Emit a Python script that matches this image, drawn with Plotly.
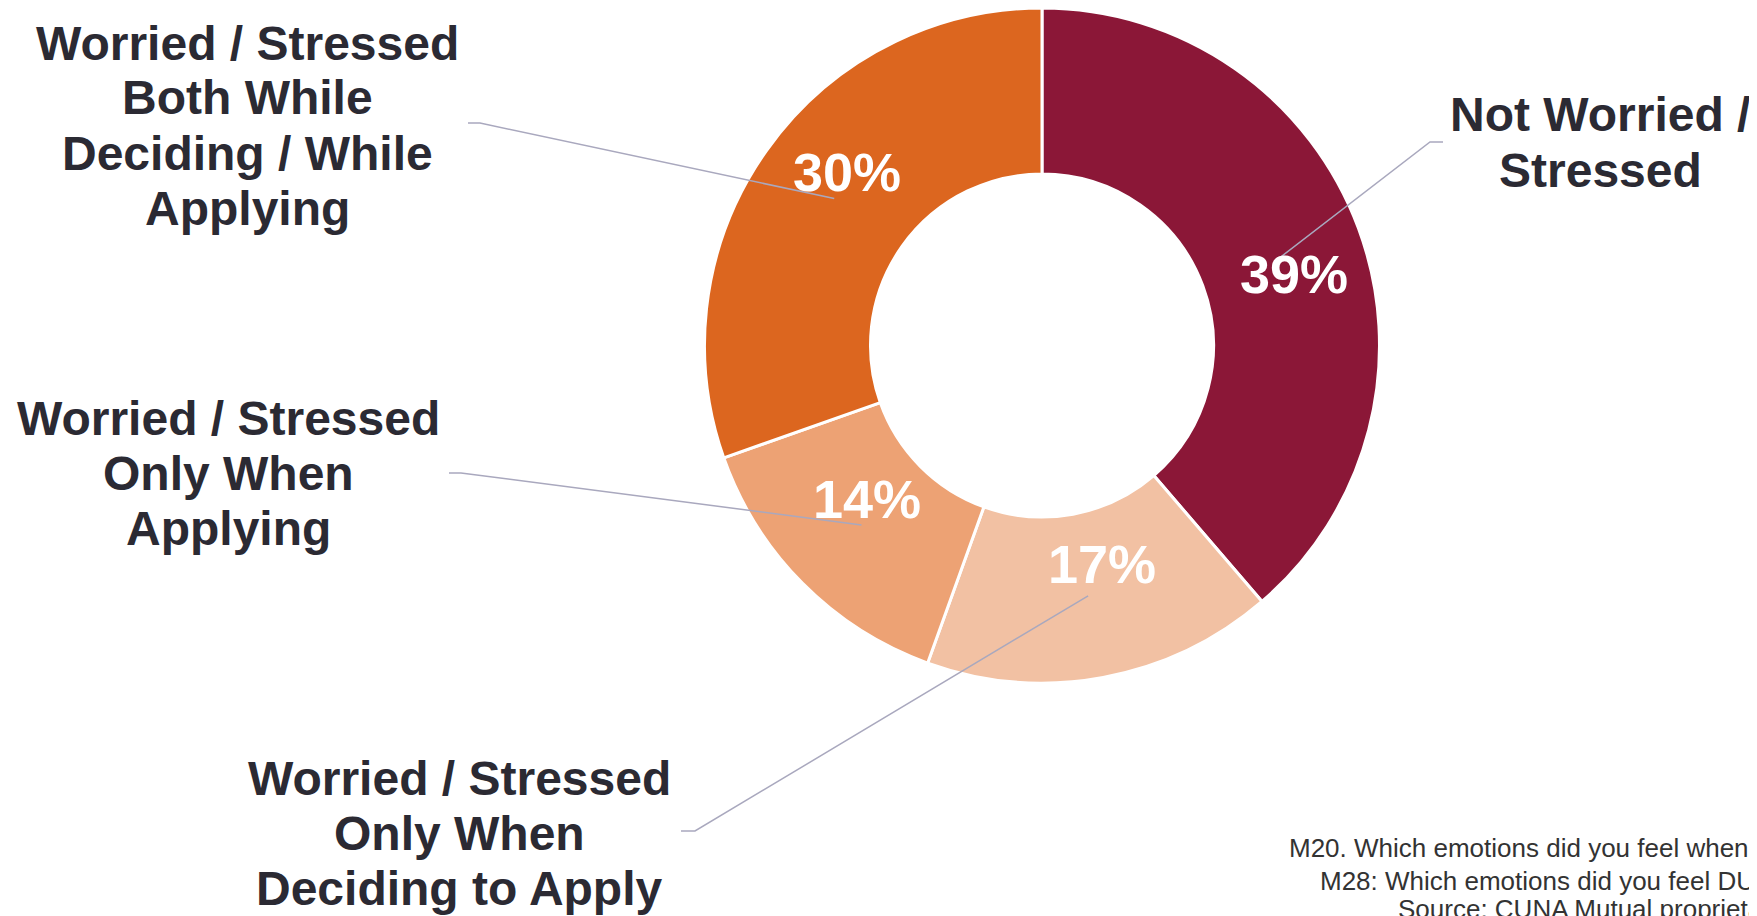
import math
import plotly.graph_objects as go

# ---- data ----
categories = [
    "Not Worried / Stressed",
    "Worried / Stressed Only When Deciding to Apply",
    "Worried / Stressed Only When Applying",
    "Worried / Stressed Both While Deciding / While Applying",
]
values = [38.7, 16.8, 14.1, 30.4]
value_labels = ["39%", "17%", "14%", "30%"]
label_lines = [
    ["Not Worried /", "Stressed"],
    ["Worried / Stressed", "Only When", "Deciding to Apply"],
    ["Worried / Stressed", "Only When", "Applying"],
    ["Worried / Stressed", "Both While", "Deciding / While", "Applying"],
]
colors = ["#8B1737", "#F2C1A3", "#EDA274", "#DC661F"]
footer_lines = [
    "M20. Which emotions did you feel when deciding to apply?",
    "M28: Which emotions did you feel DURING the application?",
    "Source: CUNA Mutual proprietary research",
]

# ---- layout (page pixels) ----
W, H = 1757, 916
OFF = 8  # default browser body margin
CX, CY = 1042, 345.5
TEXT = "#2B2A33"
LEADER = "#A9A8BE"
# label text centre x, first line centre y, leader start, elbow, value label centre
label_layout = [
    dict(x=1600, y=115, lx=1443, ly=142, dx=-13, vx=1294, vy=274),
    dict(x=459, y=778, lx=681, ly=831, dx=14, vx=1102, vy=564),
    dict(x=228, y=418, lx=449, ly=473, dx=12, vx=867, vy=499),
    dict(x=247, y=43, lx=468, ly=123, dx=12, vx=847, vy=172),
]
LINE_STEP = 55
footer_layout = [(1287, 848), (1318, 881), (1396, 909)]
R = CY - OFF
HOLE = 171.5 / R


def px(x):
    return (x - OFF) / W


def py(y):
    return 1 - (y - OFF) / H


fig = go.Figure(go.Pie(
    labels=categories,
    values=values,
    textinfo="none",
    hole=HOLE,
    sort=False,
    direction="clockwise",
    rotation=0,
    marker=dict(colors=colors, line=dict(color="white", width=3)),
    domain=dict(x=[px(CX - R), px(CX + R)], y=[max(0, py(CY + R)), min(1, py(CY - R))]),
    showlegend=False,
    hoverinfo="label+percent",
))

annotations = []
shapes = []
total = sum(values)
cum = 0
r_mid = R * (1 + HOLE) / 2
for v, vl, lines, lay in zip(values, value_labels, label_lines, label_layout):
    mid = (cum + v / 2) / total * 2 * math.pi
    cum += v
    ex = CX + r_mid * math.sin(mid)
    ey = CY - r_mid * math.cos(mid)
    ox, oy = lay["lx"], lay["ly"]
    shapes.append(dict(
        type="path", xref="paper", yref="paper",
        path=f"M {px(ox)},{py(oy)} L {px(ox + lay['dx'])},{py(oy)} L {px(ex)},{py(ey)}",
        line=dict(color=LEADER, width=1.5),
    ))
    for i, t in enumerate(lines):
        annotations.append(dict(
            text=t, x=px(lay["x"]), y=py(lay["y"] + i * LINE_STEP),
            xref="paper", yref="paper", xanchor="center", yanchor="middle",
            showarrow=False,
            font=dict(family="Liberation Sans, Arial", size=48, color=TEXT, weight="bold"),
        ))
    annotations.append(dict(
        text=vl, x=px(lay["vx"]), y=py(lay["vy"]),
        xref="paper", yref="paper", xanchor="center", yanchor="middle",
        showarrow=False,
        font=dict(family="Liberation Sans, Arial", size=54, color="white", weight="bold"),
    ))

for t, (fx, fy) in zip(footer_lines, footer_layout):
    annotations.append(dict(
        text=t, x=px(fx), y=py(fy), xref="paper", yref="paper",
        xanchor="left", yanchor="middle", showarrow=False,
        font=dict(family="Liberation Sans, Arial", size=26, color="#333333"),
    ))

fig.update_layout(
    width=W, height=H,
    margin=dict(l=0, r=0, t=0, b=0),
    paper_bgcolor="white", plot_bgcolor="white",
    annotations=annotations, shapes=shapes,
)
fig.write_html("out.html")
